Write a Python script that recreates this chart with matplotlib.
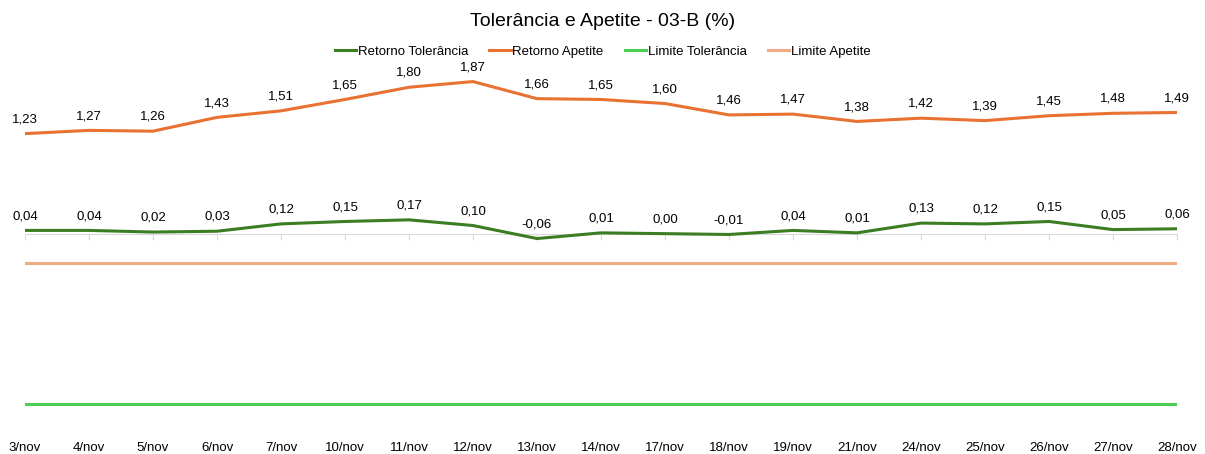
import matplotlib.pyplot as plt
import numpy as np

plt.rcParams['font.family'] = ['Liberation Sans', 'DejaVu Sans']

# data
datas = ['3/nov', '4/nov', '5/nov', '6/nov', '7/nov', '10/nov', '11/nov', '12/nov', '13/nov',
         '14/nov', '17/nov', '18/nov', '19/nov', '21/nov', '24/nov', '25/nov', '26/nov', '27/nov', '28/nov']
retorno_tolerancia = [0.04, 0.04, 0.02, 0.03, 0.12, 0.15, 0.17, 0.10, -0.06, 0.01,
                      0.00, -0.01, 0.04, 0.01, 0.13, 0.12, 0.15, 0.05, 0.06]
retorno_apetite = [1.23, 1.27, 1.26, 1.43, 1.51, 1.65, 1.80, 1.87, 1.66, 1.65,
                   1.60, 1.46, 1.47, 1.38, 1.42, 1.39, 1.45, 1.48, 1.49]
limite_tolerancia = -2.10
limite_apetite = -0.36

x = np.arange(len(datas))

fig = plt.figure(figsize=(12.05, 4.54), dpi=100)
ax = fig.add_axes([25 / 1205, 17 / 454, 1152 / 1205, 366 / 454])

ax.plot(x, retorno_tolerancia, color='#3b7d23', lw=2.2, label='Retorno Tolerância', zorder=4)
ax.plot(x, retorno_apetite, color='#e97132', lw=2.2, label='Retorno Apetite', zorder=4)
ax.plot(x, [limite_tolerancia] * len(x), color='#4ccf50', lw=2.2, label='Limite Tolerância', zorder=3)
ax.plot(x, [limite_apetite] * len(x), color='#f2aa84', lw=2.2, label='Limite Apetite', zorder=3)

# data labels
for serie in (retorno_tolerancia, retorno_apetite):
    for xi, v in zip(x, serie):
        ax.annotate(f'{v:.2f}'.replace('.', ','), (xi, v), xytext=(0, 6),
                    textcoords='offset points', ha='center', va='bottom', fontsize=9.5)

ax.set_xlim(0, len(x) - 1)
ax.set_ylim(-2.5, 2.0)

# category axis crossing at zero, labels at the bottom
for s in ('top', 'right', 'left'):
    ax.spines[s].set_visible(False)
ax.spines['bottom'].set_position(('data', 0))
ax.spines['bottom'].set_color('#d9d9d9')
ax.set_xticks(x)
ax.tick_params(axis='x', direction='out', length=4, color='#d9d9d9', labelbottom=False)
ax.set_yticks([])
for xi, d in zip(x, datas):
    ax.text(xi, -0.03, d, transform=ax.get_xaxis_transform(), ha='center', va='center',
            fontsize=9.5, clip_on=False)

fig.suptitle('Tolerância e Apetite - 03-B (%)', y=0.972, fontsize=14)
fig.legend(loc='center', bbox_to_anchor=(0.5, 0.886), ncol=4, frameon=False, fontsize=9.5,
           handlelength=1.65, handletextpad=0.1, columnspacing=1.6)

fig.savefig('out.png', dpi=100)
